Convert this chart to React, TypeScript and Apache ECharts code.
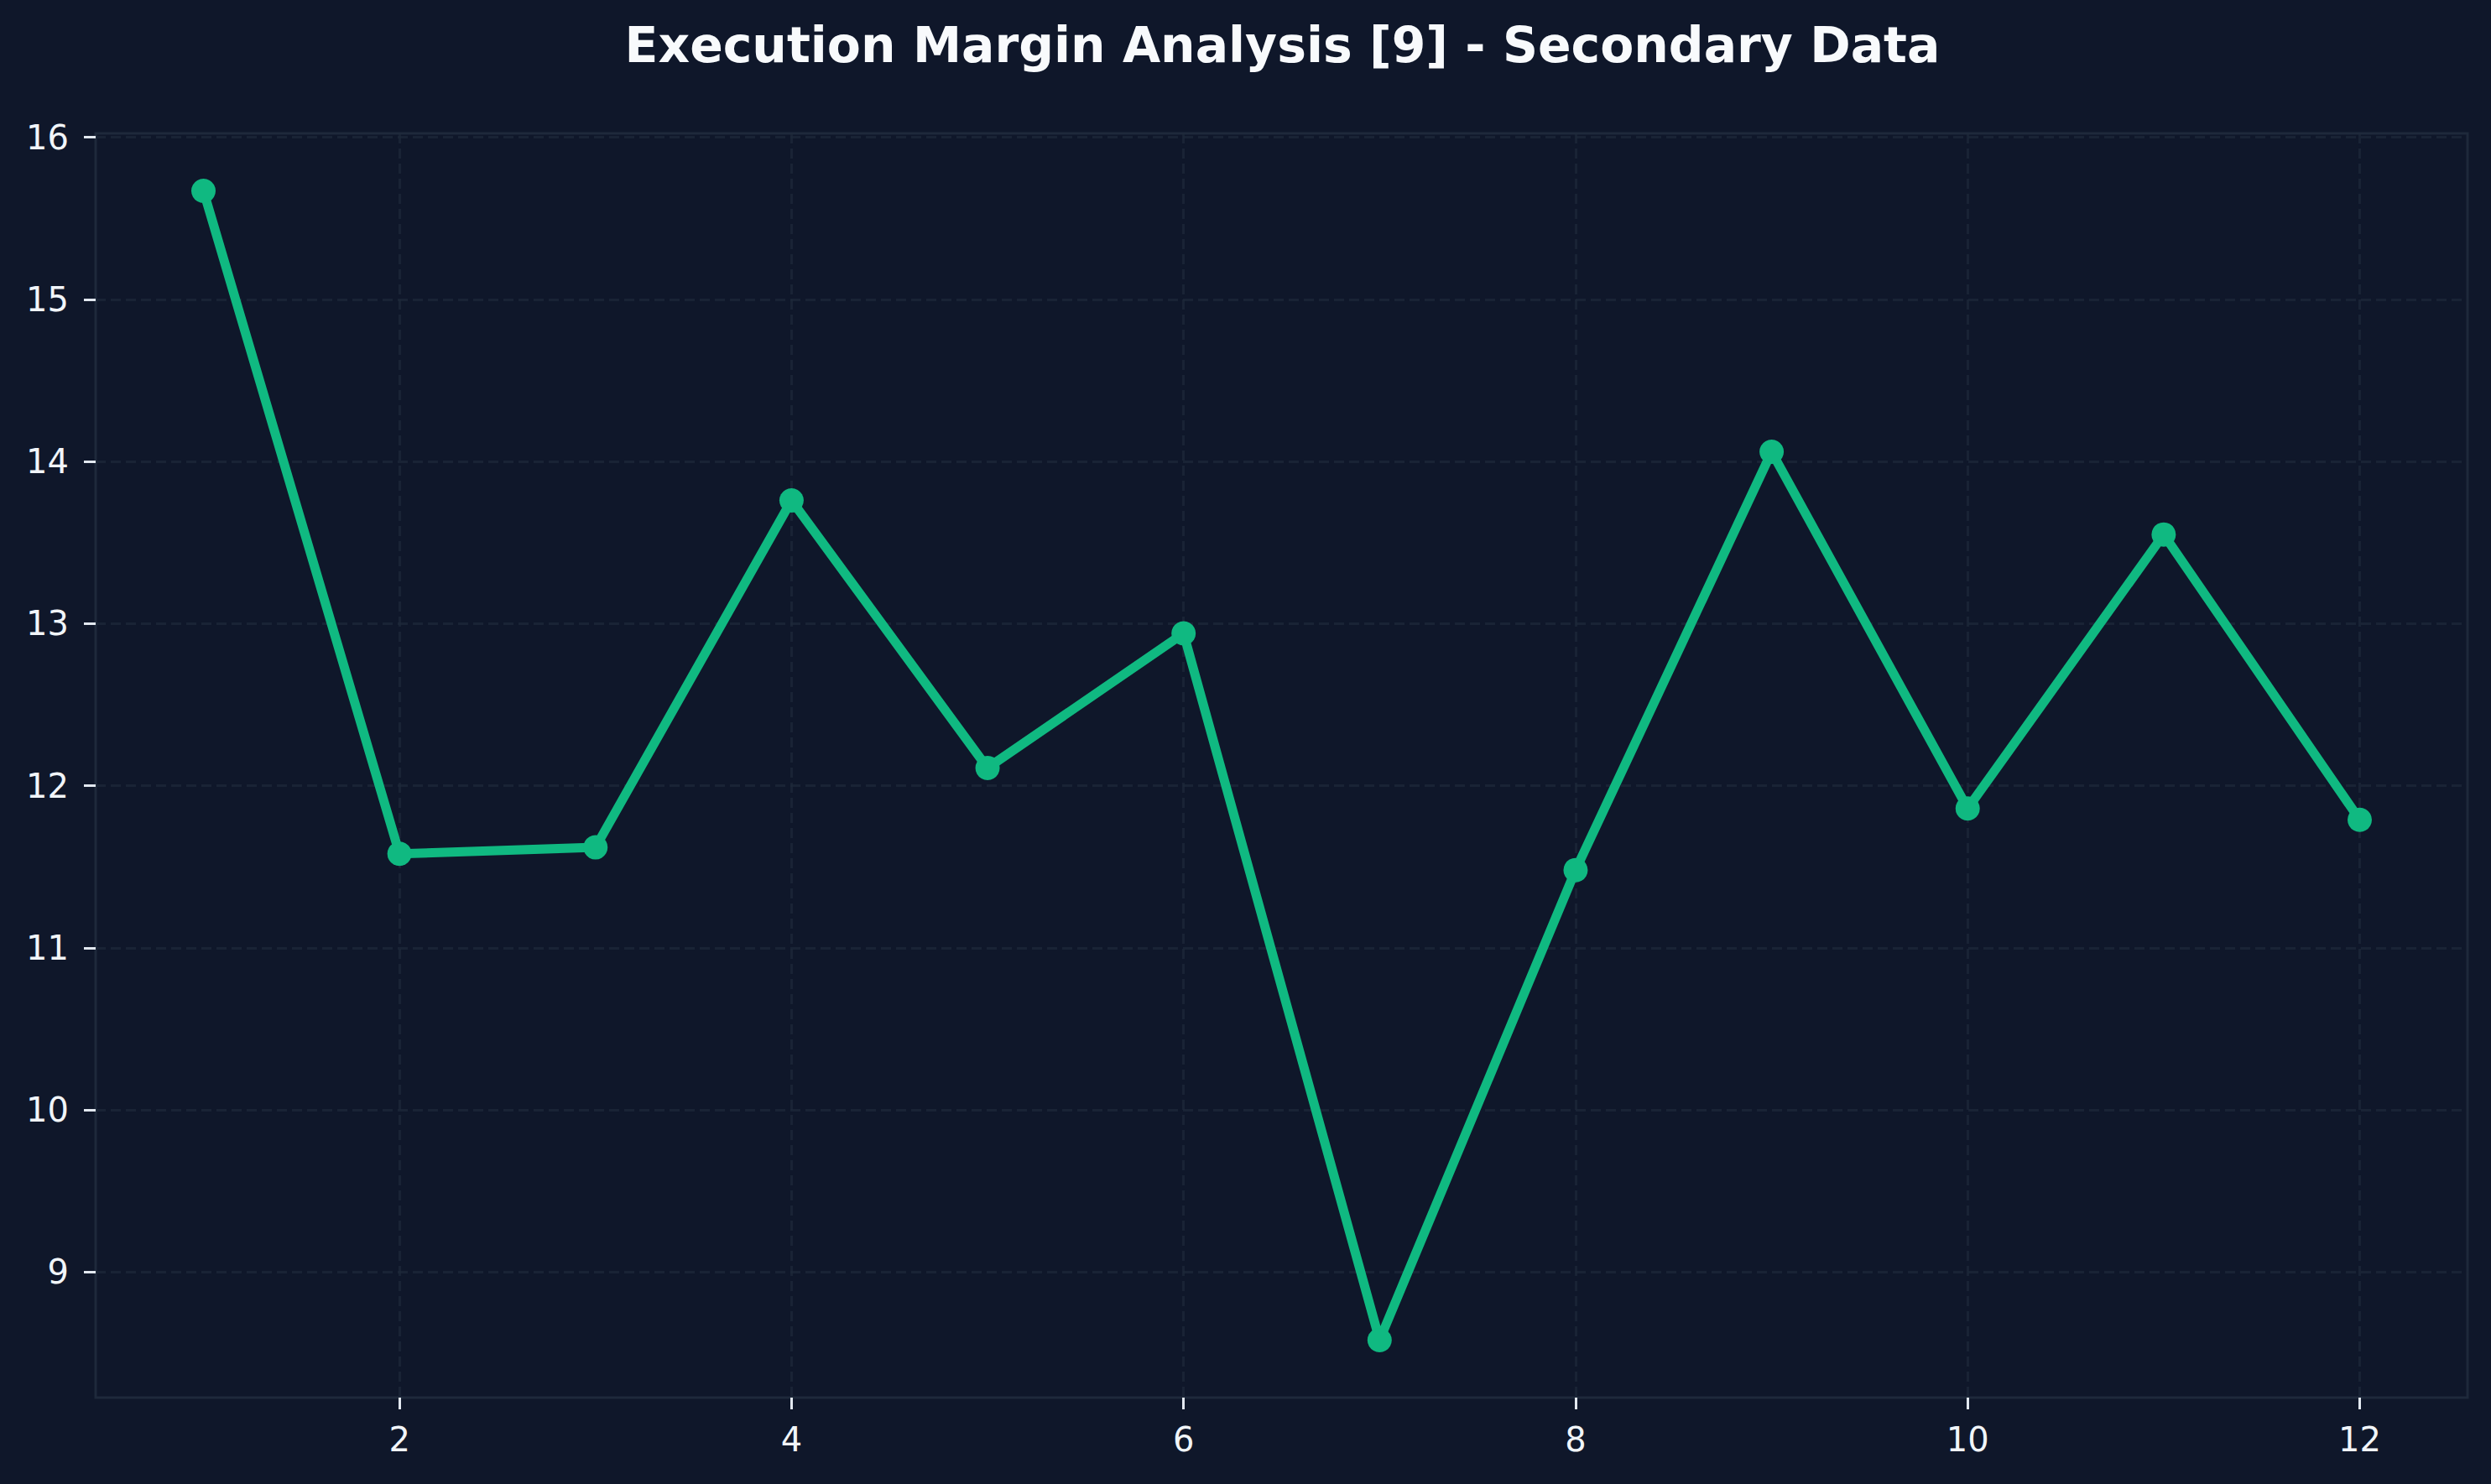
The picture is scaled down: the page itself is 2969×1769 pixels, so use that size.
import React, { useEffect, useRef } from "react";
import * as echarts from "echarts";

const titleText = "Execution Margin Analysis [9] - Secondary Data";
const xValues = [1, 2, 3, 4, 5, 6, 7, 8, 9, 10, 11, 12];
const yValues = [15.67, 11.58, 11.62, 13.76, 12.11, 12.94, 8.58, 11.48, 14.06, 11.86, 13.55, 11.79];
const xTicks = [2, 4, 6, 8, 10, 12];
const yTicks = [9, 10, 11, 12, 13, 14, 15, 16];

const W = 2969;
const H = 1769;

export default function App() {
  const ref = useRef<HTMLDivElement>(null);
  useEffect(() => {
    document.body.style.margin = "0";
    document.body.style.background = "#0f172a";
    const chart = echarts.init(ref.current!, null, { renderer: "svg" });
    const xMinD = Math.min(...xValues);
    const xMaxD = Math.max(...xValues);
    const yMinD = Math.min(...yValues);
    const yMaxD = Math.max(...yValues);
    const xm = (xMaxD - xMinD) * 0.05;
    const ym = (yMaxD - yMinD) * 0.05;
    const gridLeft = 114;
    const gridRight = 28;
    const font = "DejaVu Sans";
    chart.setOption({
      animation: false,
      backgroundColor: "#0f172a",
      title: {
        text: titleText,
        left: gridLeft + (W - gridLeft - gridRight) / 2 - 4,
        top: 20,
        textAlign: "center",
        textStyle: {
          color: "#f8fafc",
          fontFamily: font,
          fontWeight: "bold",
          fontSize: 58.4,
        },
      },
      grid: {
        left: gridLeft,
        right: gridRight,
        top: 159,
        bottom: 103,
        show: true,
        borderColor: "#1e293b",
        borderWidth: 3,
        backgroundColor: "transparent",
      },
      xAxis: {
        type: "value",
        min: xMinD - xm,
        max: xMaxD + xm,
        axisLine: { show: false },
        axisTick: {
          show: true,
          customValues: xTicks,
          length: 14,
          lineStyle: { color: "#e2e8f0", width: 3 },
        },
        axisLabel: {
          customValues: xTicks,
          margin: 30,
          color: "#f1f5f9",
          fontFamily: font,
          fontSize: 40,
        },
        splitLine: {
          show: true,
          lineStyle: { color: "#1e293b", width: 3, type: [12, 6], opacity: 0.7 },
        },
      },
      yAxis: {
        type: "value",
        min: yMinD - ym,
        max: yMaxD + ym,
        axisLine: { show: false },
        axisTick: {
          show: true,
          customValues: yTicks,
          length: 14,
          lineStyle: { color: "#e2e8f0", width: 3 },
        },
        axisLabel: {
          customValues: yTicks,
          margin: 32,
          color: "#f1f5f9",
          fontFamily: font,
          fontSize: 40,
        },
        splitLine: {
          show: true,
          lineStyle: { color: "#1e293b", width: 3, type: [12, 6], opacity: 0.7 },
        },
      },
      series: [
        {
          type: "line",
          data: xValues.map((x, i) => [x, yValues[i]]),
          symbol: "circle",
          symbolSize: 29,
          showSymbol: true,
          lineStyle: { color: "#10b981", width: 11 },
          itemStyle: { color: "#10b981" },
          z: 3,
        },
      ],
    });
    return () => chart.dispose();
  }, []);
  return <div ref={ref} style={{ width: W, height: H }} />;
}
